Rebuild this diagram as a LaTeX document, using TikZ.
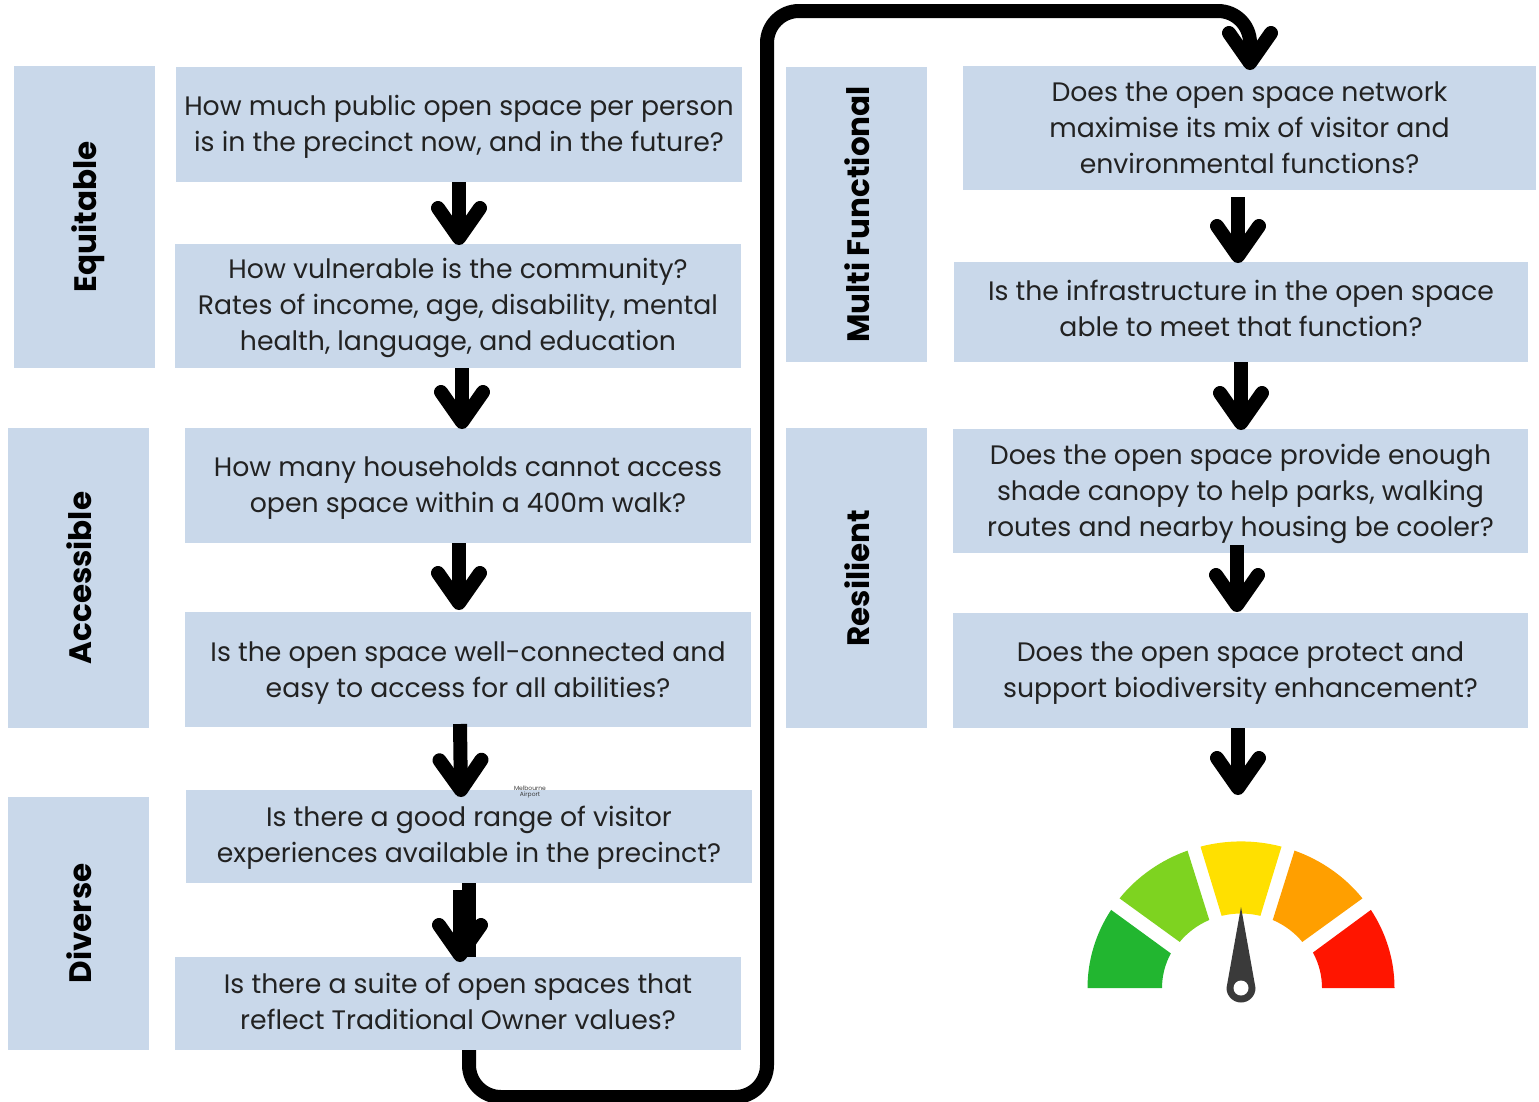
\documentclass[tikz,border=0pt]{standalone}
\usepackage{fontspec}
\setmainfont{Poppins}
\usepackage{graphicx}
\usepackage{xcolor}
\usetikzlibrary{positioning,arrows.meta}
\definecolor{boxblue}{HTML}{C9D8EA}
\definecolor{inktext}{HTML}{222222}
\definecolor{gaugegreen}{HTML}{22B630}
\definecolor{gaugelime}{HTML}{7ED320}
\definecolor{gaugeyellow}{HTML}{FFE000}
\definecolor{gaugeorange}{HTML}{FF9F00}
\definecolor{gaugered}{HTML}{FF1500}
\definecolor{needlegrey}{HTML}{3A3A3A}
\newcommand{\topline}[1]{\rule{0pt}{#1pt}}
\newcommand{\botline}[1]{\rule[-#1pt]{0pt}{0pt}}
\newcommand{\sidelabel}[2]{\hspace{#1pt}\rotatebox{90}{#2}}
\tikzset{
  qbox/.style={fill=boxblue, text=inktext, align=center, inner sep=0pt, outer sep=0pt,
    minimum width=566pt, font=\fontsize{26.7}{36}\selectfont},
  catbox/.style={fill=boxblue, text=black, inner sep=0pt, outer sep=0pt,
    minimum width=141pt, font=\fontsize{31}{34}\selectfont\bfseries},
  flow/.style={line width=14pt, -{Straight Barb[length=30pt,width=42pt,round]}},
  stub/.style={line width=14pt},
  loopline/.style={line width=14pt, rounded corners=32pt, -{Straight Barb[length=30pt,width=42pt,round]}}
}
\begin{document}
\begin{tikzpicture}[x=1pt,y=-1pt]
\useasboundingbox (0,0) rectangle (1539,1101);
\coordinate (loopa) at (469,1097);
\coordinate (loopb) at (767,1097);
\coordinate (loopc) at (767,11);
\coordinate (loopd) at (1250,11);
\coordinate (loope) at (1250,70);
\coordinate (gaugetop) at (1238,795);
\node[qbox, minimum height=115pt](q1) at (459,124.5){\topline{24}How much public open space per person\\is in the precinct now, and in the future?};
\node[qbox, minimum height=124pt, below=62pt of q1, xshift=-1pt](q2){\topline{24}How vulnerable is the community?\\Rates of income, age, disability, mental\\health, language, and education};
\node[qbox, minimum height=115pt, below=60pt of q2, xshift=10pt](q3){\topline{24}How many households cannot access\\open space within a 400m walk?};
\node[qbox, minimum height=115pt, below=69pt of q3](q4){\topline{26}Is the open space well-connected and\\easy to access for all abilities?};
\node[qbox, minimum height=93pt, below=63pt of q4, xshift=1pt](q5){\topline{22}Is there a good range of visitor\\experiences available in the precinct?};
\node[qbox, minimum height=93pt, below=74pt of q5, xshift=-11pt](q6){Is there a suite of open spaces that\\reflect Traditional Owner values?\botline{4}};
\node[catbox, minimum height=302pt](eq) at (84.5,217){\sidelabel{8}{Equitable}};
\node[catbox, minimum height=300pt, below=60pt of eq, xshift=-6pt](ac){\sidelabel{2}{Accessible}};
\node[catbox, minimum height=253pt, below=69pt of ac](di){\sidelabel{2}{Diverse}};
\node[catbox, minimum height=295pt](mf) at (856.5,214.5){\sidelabel{2}{Multi Functional}};
\node[catbox, minimum height=300pt, below=66pt of mf](re){\sidelabel{2}{Resilient}};
\node[qbox, minimum width=573pt, minimum height=124pt](m1) at (1249.5,128){Does the open space network\\maximise its mix of visitor and\\environmental functions?};
\node[qbox, minimum width=574pt, minimum height=100pt, below=72pt of m1, xshift=-8.5pt](m2){Is the infrastructure in the open space\\able to meet that function?\botline{8}};
\node[qbox, minimum width=575pt, minimum height=124pt, below=67pt of m2, xshift=-.5pt](r1){\topline{26}Does the open space provide enough\\shade canopy to help parks, walking\\routes and nearby housing be cooler?};
\node[qbox, minimum width=575pt, minimum height=115pt, below=60pt of r1](r2){\topline{24}Does the open space protect and\\support biodiversity enhancement?};
\node[text=needlegrey, align=center, inner sep=0pt, font=\fontsize{6}{6}\selectfont](tag) at (530,792.5){Melbourne\\Airport};
\draw[loopline] ([xshift=11pt]q6.south) -- (loopa) -- (loopb) -- (loopc) -- (loopd) -- (loope);
\draw[flow] (q1.south) -- ([yshift=-1pt]q1.south |- q2.north);
\draw[flow] ([xshift=4pt]q2.south) -- ([xshift=-6pt,yshift=-1pt]q3.north);
\draw[flow] ([xshift=-9pt]q3.south) -- ([xshift=-9pt,yshift=2pt]q4.north);
\draw[flow] ([xshift=-8pt,yshift=3pt]q4.south) -- ([xshift=-8pt,yshift=-7pt]q5.north);
\draw[stub] (q5.south) -- ([xshift=11pt]q6.north);
\draw[flow] ([xshift=-9pt,yshift=-7pt]q5.south) -- ([xshift=2pt,yshift=-5pt]q6.north);
\draw[flow] ([xshift=-11.5pt,yshift=-7pt]m1.south) -- ([xshift=-3pt,yshift=-1pt]m2.north);
\draw[flow] (m2.south) -- ([yshift=-1pt]m2.south |- r1.north);
\draw[flow] ([xshift=-3.5pt,yshift=8pt]r1.south) -- ([xshift=-3.5pt,yshift=1pt]r2.north);
\draw[flow] ([xshift=-2.5pt]r2.south) -- (gaugetop);
\begin{scope}[shift={(1241,988)},y=.955pt]
\fill[gaugegreen] (180:153.5) arc[start angle=180,end angle=147.8,radius=153.5] -- (152.7:79) arc[start angle=152.7,end angle=180,radius=79] -- cycle;
\fill[gaugelime] (142.3:153.5) arc[start angle=142.3,end angle=110.4,radius=153.5] -- (114:78) arc[start angle=114,end angle=141.8,radius=78] -- cycle;
\fill[gaugeyellow] (105.3:153.5) arc[start angle=105.3,end angle=74.7,radius=153.5] -- (75.6:78) arc[start angle=75.6,end angle=104.4,radius=78] -- cycle;
\fill[gaugeorange] (69.6:153.5) arc[start angle=69.6,end angle=37.7,radius=153.5] -- (38.2:78) arc[start angle=38.2,end angle=66,radius=78] -- cycle;
\fill[gaugered] (32.2:153.5) arc[start angle=32.2,end angle=0,radius=153.5] -- (0:81) arc[start angle=0,end angle=27.3,radius=81] -- cycle;
\end{scope}
\fill[needlegrey] (1241,907) -- (1226.5,988) arc[start angle=180,end angle=0,radius=14.5] -- cycle;
\fill[white] (1241,988) circle[radius=7.5];
\end{tikzpicture}
\end{document}
